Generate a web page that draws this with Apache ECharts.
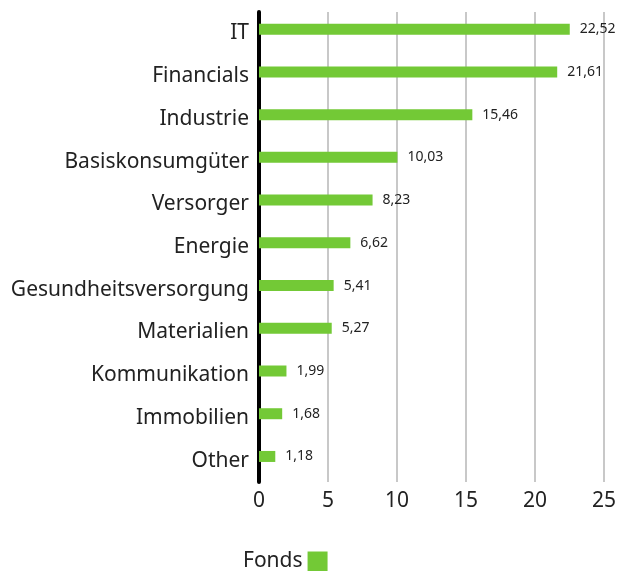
<!DOCTYPE html>
<html>
<head>
<meta charset="utf-8">
<script src="https://cdn.jsdelivr.net/npm/echarts@6/dist/echarts.min.js"></script>
<style>
  html, body { margin: 0; padding: 0; background: #fff; }
  #chart { width: 619px; height: 571px; }
</style>
</head>
<body>
<div id="chart"></div>
<script>
// Sektoren (von oben nach unten)
var sectors = ['IT', 'Financials', 'Industrie', 'Basiskonsumgüter', 'Versorger', 'Energie',
  'Gesundheitsversorgung', 'Materialien', 'Kommunikation', 'Immobilien', 'Other'];
// Gewichtung Fonds in %
var fondsValues = [22.52, 21.61, 15.46, 10.03, 8.23, 6.62, 5.41, 5.27, 1.99, 1.68, 1.18];
var xTicks = [0, 5, 10, 15, 20, 25];

var fontName = '"Noto Sans", sans-serif';
var chart = echarts.init(document.getElementById('chart'));

var option = {
  animation: false,
  grid: {
    left: 259,
    right: 15,
    top: 12,
    height: 470
  },
  legend: {
    bottom: -6,
    left: 238,
    align: 'right',
    itemWidth: 20,
    itemHeight: 20,
    itemGap: 10,
    textStyle: { fontFamily: fontName, fontSize: 21, color: '#222', padding: [6, 0, 0, 0] },
    data: [{ name: 'Fonds', icon: 'rect' }]
  },
  xAxis: {
    type: 'value',
    min: xTicks[0],
    max: xTicks[xTicks.length - 1],
    interval: 5,
    axisLine: { show: false },
    axisTick: { show: false },
    splitLine: { lineStyle: { color: '#c8c8c8', width: 2 } },
    axisLabel: { fontFamily: fontName, fontSize: 21, color: '#222', margin: 9 }
  },
  yAxis: {
    type: 'category',
    inverse: true,
    data: sectors,
    axisLine: { lineStyle: { color: '#000', width: 4 } },
    axisTick: { show: false },
    axisLabel: { fontFamily: fontName, fontSize: 21, color: '#222', margin: 10 }
  },
  series: [
    {
      name: 'Fonds',
      type: 'bar',
      data: fondsValues,
      barWidth: 11,
      barGap: '-24%',
      itemStyle: { color: '#73c936' },
      label: {
        show: true,
        position: 'right',
        distance: 10,
        fontFamily: fontName,
        fontSize: 14,
        color: '#222',
        formatter: function (p) { return p.value.toFixed(2).replace('.', ','); }
      }
    },
    {
      // leere Reihe, damit die Balken leicht oberhalb der Kategorie-Mitte liegen
      name: 'spacer',
      type: 'bar',
      barWidth: 11,
      data: [],
      silent: true
    }
  ]
};

chart.setOption(option);
</script>
</body>
</html>
